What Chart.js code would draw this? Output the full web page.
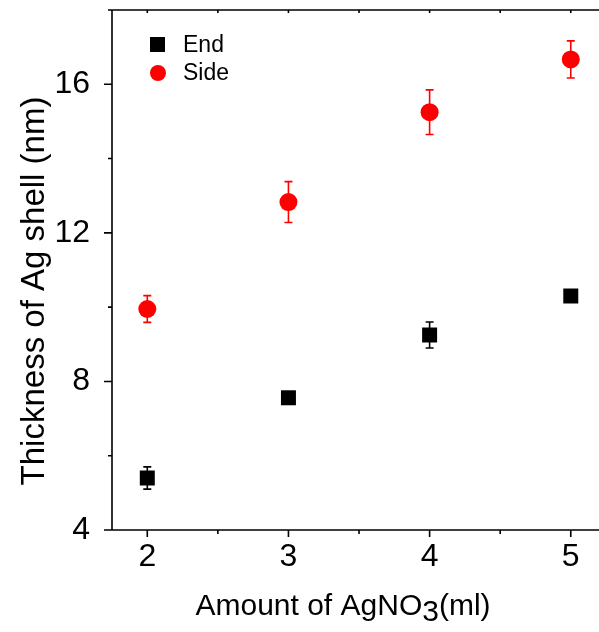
<!DOCTYPE html>
<html>
<head>
<meta charset="utf-8">
<script src="https://cdn.jsdelivr.net/npm/chart.js@4"></script>
<style>
  html, body { margin: 0; padding: 0; background: #fff; overflow: hidden; }
  #wrap { width: 599px; height: 632px; }
</style>
</head>
<body>
<div id="wrap"><canvas id="c" width="599" height="632"></canvas></div>
<script>
// ---- data ----
const xValues = [2, 3, 4, 5];
const endValues = [5.40, 7.56, 9.25, 10.30];
const endErrors = [0.30, 0.15, 0.35, 0.15];
const sideValues = [9.95, 12.83, 15.25, 16.67];
const sideErrors = [0.36, 0.55, 0.60, 0.50];
const seriesLabels = ['End', 'Side'];
const xTickValues = [2, 2.5, 3, 3.5, 4, 4.5, 5];
const xTickLabels = ['2', '', '3', '', '4', '', '5'];
const yTickValues = [4, 6, 8, 10, 12, 14, 16, 18];
const yTickLabels = ['4', '', '8', '', '12', '', '16', ''];
const xTitleParts = ['Amount of AgNO', '3', '(ml)'];
const yTitle = 'Thickness of Ag shell (nm)';

const FONT = '"Liberation Sans", Arial, sans-serif';

const errorBars = {
  id: 'errorBars',
  beforeDatasetsDraw(chart) {
    const ctx = chart.ctx, xs = chart.scales.x, ys = chart.scales.y;
    chart.data.datasets.forEach(ds => {
      ctx.save();
      ctx.strokeStyle = ds.backgroundColor;
      ctx.lineWidth = 1.6;
      ds.data.forEach((p, i) => {
        const e = ds.errors[i];
        const px = xs.getPixelForValue(p.x);
        const top = ys.getPixelForValue(p.y + e);
        const bot = ys.getPixelForValue(p.y - e);
        ctx.beginPath();
        ctx.moveTo(px, top); ctx.lineTo(px, bot);
        ctx.moveTo(px - 4, top); ctx.lineTo(px + 4, top);
        ctx.moveTo(px - 4, bot); ctx.lineTo(px + 4, bot);
        ctx.stroke();
      });
      ctx.restore();
    });
  }
};

const frame = {
  id: 'frame',
  afterDraw(chart) {
    const ctx = chart.ctx, xs = chart.scales.x, ys = chart.scales.y;
    const { left, top, right, bottom } = chart.chartArea;
    ctx.save();
    ctx.strokeStyle = '#000';
    ctx.lineWidth = 1.6;
    ctx.beginPath();
    ctx.moveTo(left, top); ctx.lineTo(left, bottom);
    ctx.moveTo(left - 8, bottom); ctx.lineTo(right, bottom);
    ctx.moveTo(left, top); ctx.lineTo(right, top);
    xs.ticks.forEach((t, i) => {
      const px = xs.getPixelForValue(t.value);
      const major = xTickLabels[i] !== '';
      ctx.moveTo(px, bottom); ctx.lineTo(px, bottom + (major ? 7 : 4));
      ctx.moveTo(px, top); ctx.lineTo(px, top + 3);
    });
    ys.ticks.forEach((t, i) => {
      const py = ys.getPixelForValue(t.value);
      const major = yTickLabels[i] !== '';
      ctx.moveTo(left, py); ctx.lineTo(left - (major ? 8 : 4), py);
    });
    ctx.stroke();

    // axis titles
    ctx.fillStyle = '#000';
    ctx.font = '30px ' + FONT;
    ctx.textBaseline = 'alphabetic';
    const w0 = ctx.measureText(xTitleParts[0]).width;
    const w1 = ctx.measureText(xTitleParts[1]).width;
    const w2 = ctx.measureText(xTitleParts[2]).width;
    const sx = 343 - (w0 + w1 + w2) / 2;
    const base = 615;
    ctx.textAlign = 'left';
    ctx.fillText(xTitleParts[0], sx, base);
    ctx.fillText(xTitleParts[1], sx + w0, base + 6);
    ctx.fillText(xTitleParts[2], sx + w0 + w1, base);

    ctx.save();
    ctx.font = '33px ' + FONT;
    ctx.translate(44, 291);
    ctx.rotate(-Math.PI / 2);
    ctx.textAlign = 'center';
    ctx.fillText(yTitle, 0, 0);
    ctx.restore();

    // legend
    ctx.font = '23px ' + FONT;
    ctx.textAlign = 'left';
    ctx.textBaseline = 'alphabetic';
    ctx.fillStyle = '#000';
    ctx.fillRect(150, 37, 15, 15);
    ctx.fillText(seriesLabels[0], 183, 52);
    ctx.fillStyle = '#ff0000';
    ctx.beginPath(); ctx.arc(158, 73, 8, 0, Math.PI * 2); ctx.fill();
    ctx.fillStyle = '#000';
    ctx.fillText(seriesLabels[1], 183, 80);
    ctx.restore();
  }
};

const mk = (ys, es) => ({ data: xValues.map((x, i) => ({ x, y: ys[i] })), errors: es });

new Chart(document.getElementById('c'), {
  type: 'scatter',
  data: {
    datasets: [
      Object.assign(mk(endValues, endErrors), {
        label: seriesLabels[0], backgroundColor: '#000000', borderColor: '#000000',
        pointStyle: 'rect', pointRadius: 10.6, pointHoverRadius: 10.6, borderWidth: 0
      }),
      Object.assign(mk(sideValues, sideErrors), {
        label: seriesLabels[1], backgroundColor: '#ff0000', borderColor: '#ff0000',
        pointStyle: 'circle', pointRadius: 9, pointHoverRadius: 9, borderWidth: 0
      })
    ]
  },
  options: {
    responsive: false,
    devicePixelRatio: 1,
    animation: false,
    events: [],
    layout: { padding: { top: 10, right: 0, left: 0, bottom: 0 }, autoPadding: false },
    plugins: { legend: { display: false }, tooltip: { enabled: false } },
    scales: {
      x: {
        type: 'linear', min: 1.75, max: 5.2,
        afterBuildTicks: s => { s.ticks = xTickValues.map(v => ({ value: v })); },
        afterFit: s => { s.height = 102; s.paddingLeft = 0; s.paddingRight = 0; },
        grid: { display: false },
        border: { display: false },
        ticks: {
          autoSkip: false, maxRotation: 0,
          callback: (v, i) => xTickLabels[i],
          color: '#000', font: { family: FONT, size: 32 }, padding: 0
        }
      },
      y: {
        type: 'linear', min: 4, max: 18,
        afterBuildTicks: s => { s.ticks = yTickValues.map(v => ({ value: v })); },
        afterFit: s => { s.width = 112; s.paddingTop = 0; s.paddingBottom = 0; },
        grid: { display: false },
        border: { display: false },
        ticks: {
          autoSkip: false,
          callback: (v, i) => yTickLabels[i],
          color: '#000', font: { family: FONT, size: 32 }, padding: 14
        }
      }
    }
  },
  plugins: [errorBars, frame]
});
</script>
</body>
</html>
